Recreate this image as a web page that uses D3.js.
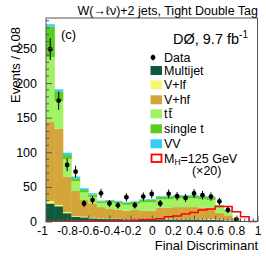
<!DOCTYPE html>
<html lang="en">
    <head>
        <meta charset="utf-8">
        <title>Final Discriminant</title>
        <script src="https://d3js.org/d3.v7.min.js"></script>
        <style type="text/css">
            body { margin: 0; background: #fff; }
            text { font-family: "Liberation Sans", Arial, sans-serif; fill: #000; }
        </style>
    </head>
    <body>
        <script type="text/javascript">

            //1. Consts
            const svgW = 266;
            const svgH = 256;
            const plotL = 46, plotR = 257.5, plotT = 18, plotB = 221.5;

            //2. Data: 25 bins of 0.08 from -1 to 1
            const binStart = -1;
            const binWidth = 0.08;
            const multijet = [26, 22, 12, 7, 6, 4.5, 4, 3.5, 3.5, 3, 3, 3, 3, 3, 3, 3, 3, 3, 2.5, 2.5, 2, 1.5, 0.5, 0, 0];
            const vlf      = [3.5, 2, 1.7, 1, 1, 0.8, 0.8, 0.7, 0.7, 0.6, 0.6, 0.6, 0.8, 1, 1.2, 0.8, 0.8, 0.8, 0.8, 1.2, 0.8, 0.5, 0.2, 0, 0];
            const vhf      = [115, 110, 51, 36, 24, 21, 16, 14, 13, 12, 13, 12, 12, 16, 16, 17, 17, 17, 16.5, 15, 10, 7, 2, 0.2, 0];
            const ttbar    = [93, 40, 25.3, 14, 11, 9, 6, 9, 9, 8.5, 8.5, 12, 12, 12, 12, 12.5, 12.5, 12.5, 12.5, 12.5, 8, 6, 1.8, 0.2, 0];
            const singlet  = [44, 13.5, 6, 4.5, 3.5, 3.5, 2.2, 2.5, 2.7, 2.9, 3, 3.3, 3.3, 3.8, 3.8, 3.7, 3.7, 3.7, 3.7, 3.8, 2.5, 1.5, 0.4, 0.1, 0];
            const vv       = [3.5, 3.5, 3.4, 2.5, 2.5, 2, 1.2, 1.2, 1, 1, 1, 1, 1, 1, 1, 1, 1, 1, 1, 1, 0.7, 0.5, 0.1, 0, 0];
            const signalX20 = [0.5, 0.5, 0.6, 0.7, 0.8, 1, 1, 1.2, 1.3, 1.5, 1.8, 2.5, 3, 4, 7, 8, 11, 13, 16.5, 18, 21.5, 21.5, 14, 7, 0];
            const dataVals = [249, 174.6, 81.6, 72, 26, 31, 40.7, 26, 23.4, 35, 23.5, 36, 39.7, 26, 40, 36.5, 34, 40.5, 38, 36, 29, 16.6, 3, null, null];
            const dataErr  = [15.8, 13.2, 9, 8.5, 5.1, 5.6, 6.4, 5.1, 4.8, 5.9, 4.8, 6, 6.3, 5.1, 6.3, 6, 5.8, 6.4, 6.2, 6, 5.4, 4.1, 1.7, null, null];

            const xTicks = [-1, -0.8, -0.6, -0.4, -0.2, 0, 0.2, 0.4, 0.6, 0.8, 1];
            const yTicks = [0, 50, 100, 150, 200, 250];

            const keys = ["multijet", "vlf", "vhf", "ttbar", "singlet", "vv"];
            const names = ["Multijet", "V+lf", "V+hf", "tt", "single t", "VV"];
            const colors = ["#0e5a3b", "#f6f674", "#d3a53a", "#a2f266", "#5ccd1c", "#35cdf5"];

            const table = multijet.map((d, i) => ({
                lo: binStart + i * binWidth,
                multijet: multijet[i], vlf: vlf[i], vhf: vhf[i],
                ttbar: ttbar[i], singlet: singlet[i], vv: vv[i]
            }));

            //3. Scales
            const xScale = d3.scaleLinear().domain([-1, 1]).range([plotL, plotR]);
            const yScale = d3.scaleLinear().domain([0, 294]).range([plotB, plotT]);

            //4. SVG
            const svg = d3.select("body").append("svg")
                        .attr("width", svgW)
                        .attr("height", svgH);

            const plot = svg.append("g");
            const series = d3.stack().keys(keys)(table);

            plot.selectAll("g.layer")
                .data(series)
                .enter()
                .append("g")
                .attr("fill", (d, i) => colors[i])
                .selectAll("rect")
                .data(d => d)
                .enter()
                .append("rect")
                .attr("x", d => xScale(d.data.lo))
                .attr("width", xScale(binWidth) - xScale(0) + 0.4)
                .attr("y", d => yScale(d[1]))
                .attr("height", d => Math.max(0, yScale(d[0]) - yScale(d[1])));

            // signal x20 outline (step)
            const sigPts = [];
            signalX20.forEach((v, i) => {
                sigPts.push([binStart + i * binWidth, v]);
                sigPts.push([binStart + (i + 1) * binWidth, v]);
            });
            plot.append("path")
                .datum([[binStart, 0]].concat(sigPts))
                .attr("fill", "none")
                .attr("stroke", "#ff0000")
                .attr("stroke-width", 1.5)
                .attr("d", d3.line().x(d => xScale(d[0])).y(d => yScale(d[1])));

            // data points
            const pts = dataVals.map((v, i) => ({x: binStart + (i + 0.5) * binWidth, y: v, e: dataErr[i]}))
                                .filter(d => d.y !== null);
            plot.selectAll("line.err")
                .data(pts)
                .enter()
                .append("line")
                .attr("x1", d => xScale(d.x))
                .attr("x2", d => xScale(d.x))
                .attr("y1", d => yScale(d.y - d.e))
                .attr("y2", d => yScale(d.y + d.e))
                .attr("stroke", "#000")
                .attr("stroke-width", 1);
            plot.selectAll("circle.pt")
                .data(pts)
                .enter()
                .append("circle")
                .attr("cx", d => xScale(d.x))
                .attr("cy", d => yScale(d.y))
                .attr("r", 2.4)
                .attr("fill", "#000");

            //5. Axes (ticks inside, ROOT style)
            const yAxis = d3.axisLeft(yScale).tickValues(yTicks).tickSize(-6).tickPadding(9);
            svg.append("g")
                .attr("transform", "translate(" + plotL + ",0)")
                .call(yAxis)
                .call(g => g.select(".domain").remove())
                .call(g => g.selectAll("text").attr("font-size", 12.5).attr("font-family", "Liberation Sans, Arial, sans-serif"))
                .call(g => g.selectAll("line").attr("stroke", "#555"));
            const yMinor = d3.range(0, 291, 10).filter(v => v % 50 !== 0);
            svg.append("g").selectAll("line")
                .data(yMinor).enter().append("line")
                .attr("x1", plotL).attr("x2", plotL + 3)
                .attr("y1", d => yScale(d)).attr("y2", d => yScale(d))
                .attr("stroke", "#555");

            const xAxis = d3.axisBottom(xScale).tickValues(xTicks).tickSize(-6).tickPadding(5)
                            .tickFormat(d => String(d));
            svg.append("g")
                .attr("transform", "translate(0," + plotB + ")")
                .call(xAxis)
                .call(g => g.select(".domain").remove())
                .call(g => g.selectAll("text").attr("font-size", 12).attr("font-family", "Liberation Sans, Arial, sans-serif")
                             .attr("dx", d => d === -1 ? -4 : 0))
                .call(g => g.selectAll("line").attr("stroke", "#555"));
            const xMinor = d3.range(0, 51).map(i => -1 + i * 0.04).filter((v, i) => i % 5 !== 0);
            svg.append("g").selectAll("line")
                .data(xMinor).enter().append("line")
                .attr("x1", d => xScale(d)).attr("x2", d => xScale(d))
                .attr("y1", plotB).attr("y2", plotB - 3)
                .attr("stroke", "#555");

            // frame
            svg.append("rect")
                .attr("x", plotL).attr("y", plotT)
                .attr("width", plotR - plotL).attr("height", plotB - plotT)
                .attr("fill", "none").attr("stroke", "#555").attr("stroke-width", 1);

            //6. Texts
            svg.append("text").attr("x", 258).attr("y", 14.5).attr("text-anchor", "end")
                .attr("font-size", 12.5).text("W(\u2192\u2113\u03bd)+2 jets, Tight Double Tag");
            svg.append("text").attr("x", 61).attr("y", 38.5).attr("font-size", 13).text("(c)");
            const d0 = svg.append("text").attr("x", 248).attr("y", 43.5).attr("text-anchor", "end").attr("font-size", 14.5);
            d0.append("tspan").text("D\u00d8, 9.7 fb");
            d0.append("tspan").attr("font-size", 10).attr("dy", -6).text("-1");

            svg.append("text").attr("x", 258).attr("y", 249.5).attr("text-anchor", "end")
                .attr("font-size", 13).text("Final Discriminant");
            svg.append("text")
                .attr("transform", "translate(20,27) rotate(-90)")
                .attr("text-anchor", "end").attr("font-size", 13).text("Events / 0.08");

            //7. Legend
            const legX = 150.5, legTextX = 164;
            const rowBase = [75, 89.3, 104.3, 118.3, 133.3, 148.3];
            svg.append("line").attr("x1", 153).attr("x2", 153).attr("y1", 54.5).attr("y2", 60.5).attr("stroke", "#000");
            svg.append("circle").attr("cx", 153).attr("cy", 57.5).attr("r", 2.4).attr("fill", "#000");
            svg.append("text").attr("x", legTextX).attr("y", 61.7).attr("font-size", 12.5).text("Data");

            names.forEach((n, i) => {
                svg.append("rect").attr("x", legX).attr("y", rowBase[i] - 9)
                    .attr("width", 11.5).attr("height", 9).attr("fill", colors[i]);
                const t = svg.append("text").attr("x", legTextX).attr("y", rowBase[i]).attr("font-size", 12.5);
                if (n === "tt") {
                    t.append("tspan").text("t");
                    t.append("tspan").attr("dx", 1).text("t");
                    svg.append("line").attr("x1", legTextX + 4.8).attr("x2", legTextX + 8.6)
                        .attr("y1", rowBase[i] - 9.5).attr("y2", rowBase[i] - 9.5)
                        .attr("stroke", "#000").attr("stroke-width", 0.9);
                } else {
                    t.text(n);
                }
            });
            svg.append("rect").attr("x", legX + 1).attr("y", 154.5)
                .attr("width", 10).attr("height", 7.5)
                .attr("fill", "#fff").attr("stroke", "#ff0000").attr("stroke-width", 1.8);
            const mh = svg.append("text").attr("x", legTextX).attr("y", 162.7).attr("font-size", 12.5);
            mh.append("tspan").text("M");
            mh.append("tspan").attr("font-size", 8.5).attr("dy", 2.5).text("H");
            mh.append("tspan").attr("dy", -2.5).text("=125 GeV");
            svg.append("text").attr("x", 206.7).attr("y", 174.5).attr("text-anchor", "middle")
                .attr("font-size", 12.5).text("(\u00d720)");

        </script>
    </body>
</html>
